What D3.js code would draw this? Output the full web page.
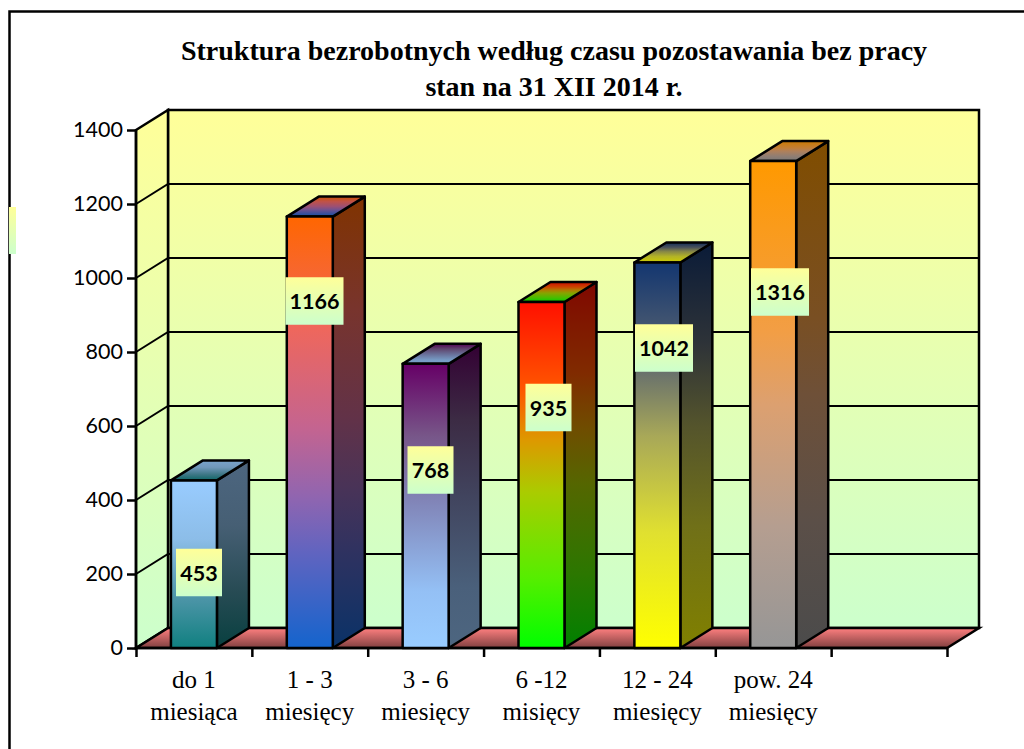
<!DOCTYPE html>
<html>
<head>
<meta charset="utf-8">
<script src="https://cdn.jsdelivr.net/npm/d3@7"></script>
<style>
    html, body { margin: 0; background: #fff; }
    svg { display: block; }
</style>
</head>
<body>
<svg id="main-chart"></svg>
<script>
const titleLines = ['Struktura bezrobotnych według czasu pozostawania bez pracy', 'stan na 31 XII 2014 r.'];
const categories = ['do 1|miesiąca', '1 - 3|miesięcy', '3 - 6|miesięcy', '6 -12|misięcy', '12 - 24|miesięcy', 'pow. 24|miesięcy'];
const values = [453, 1166, 768, 935, 1042, 1316];
const yTicks = [0, 200, 400, 600, 800, 1000, 1200, 1400];

// gradient stops of each bar, top to bottom
const barStops = [
    [[0, '#99ccff'], [0.35, '#8cbde8'], [0.7, '#4d95a8'], [1, '#108080']],
    [[0, '#ff6600'], [0.25, '#f0675a'], [0.49, '#c46490'], [0.65, '#9065b0'], [0.78, '#6064c0'], [1, '#1464cd']],
    [[0, '#660066'], [0.25, '#775588'], [0.5, '#8288bb'], [0.8, '#94c0f5'], [1, '#99ccff']],
    [[0, '#ff1000'], [0.25, '#ff5500'], [0.4, '#dd9900'], [0.55, '#aacc00'], [0.8, '#55ee00'], [1, '#00ff00']],
    [[0, '#133670'], [0.25, '#5c6670'], [0.45, '#a8a858'], [0.7, '#e0e030'], [1, '#ffff00']],
    [[0, '#ff9900'], [0.35, '#f29e45'], [0.5, '#dca070'], [0.75, '#b59e90'], [1, '#969696']]
];

// the value boxes were placed by hand in the original
const labelCenters = [[199, 572.5], [314.5, 301], [430.5, 470], [548.5, 407.5], [664, 348], [780, 292]];

const width = 1024;
const height = 749;
const plot = { left: 136, right: 947, top: 130, bottom: 648 };
const depth = { x: 32, y: -20 };

const svg = d3.select('#main-chart')
    .attr('width', width)
    .attr('height', height);

const defs = svg.append('defs');

function addGradient(id, stops) {
    const grad = defs.append('linearGradient')
        .attr('id', id)
        .attr('x1', 0).attr('y1', 0)
        .attr('x2', 0).attr('y2', 1);
    stops.forEach(s => grad.append('stop').attr('offset', s[0]).attr('stop-color', s[1]));
}

function shade(color, k) {
    const c = d3.rgb(color);
    return d3.rgb(c.r * k, c.g * k, c.b * k).formatHex();
}

addGradient('wall', [[0, '#ffff99'], [1, '#ccffcc']]);
addGradient('floor', [[0, '#ff8080'], [1, '#804040']]);
barStops.forEach((stops, i) => {
    addGradient(`front-${i}`, stops);
    addGradient(`side-${i}`, stops.map(s => [s[0], shade(s[1], 0.5)]));
    addGradient(`top-${i}`, stops.map(s => [s[0], shade(s[1], 0.8)]));
});

const yScale = d3.scaleLinear()
    .domain([0, 1400])
    .range([plot.bottom, plot.top]);

const xScale = d3.scaleBand()
    .domain(d3.range(categories.length + 1))
    .range([plot.left, plot.right])
    .paddingInner(0.603)
    .paddingOuter(0.3015);

const xEdges = d3.scaleLinear()
    .domain([0, categories.length + 1])
    .range([plot.left, plot.right]);

const poly = pts => 'M' + pts.map(p => p.join(',')).join('L') + 'Z';

const lineW = 2.5;

// walls and floor
const y0 = yScale(0);
const yMax = yScale(1400);

svg.append('path')
    .attr('d', poly([[plot.left + depth.x, yMax + depth.y], [plot.right + depth.x, yMax + depth.y],
        [plot.right + depth.x, y0 + depth.y], [plot.left + depth.x, y0 + depth.y]]))
    .attr('fill', 'url(#wall)')
    .attr('stroke', '#000')
    .attr('stroke-width', lineW);

svg.append('path')
    .attr('d', poly([[plot.left, yMax], [plot.left + depth.x, yMax + depth.y],
        [plot.left + depth.x, y0 + depth.y], [plot.left, y0]]))
    .attr('fill', 'url(#wall)')
    .attr('stroke', '#000')
    .attr('stroke-width', lineW);

svg.append('path')
    .attr('d', poly([[plot.left, y0], [plot.left + depth.x, y0 + depth.y],
        [plot.right + depth.x, y0 + depth.y], [plot.right, y0]]))
    .attr('fill', 'url(#floor)')
    .attr('stroke', '#000')
    .attr('stroke-width', lineW);

// grid lines run across the left wall and the back wall
svg.selectAll('.grid')
    .data(yTicks.filter(d => d > 0 && d < 1400))
    .enter()
    .append('path')
    .attr('class', 'grid')
    .attr('d', d => `M${plot.left},${yScale(d)}L${plot.left + depth.x},${yScale(d) + depth.y}L${plot.right + depth.x},${yScale(d) + depth.y}`)
    .attr('fill', 'none')
    .attr('stroke', '#000')
    .attr('stroke-width', 2);

// axes
const yAxis = svg.append('g')
    .attr('transform', `translate(${plot.left}, 0)`)
    .call(d3.axisLeft(yScale).tickValues(yTicks).tickSize(9).tickPadding(4).tickFormat(d3.format('d')));
yAxis.selectAll('line, path').attr('stroke', '#000').attr('stroke-width', lineW);
yAxis.selectAll('.domain').attr('d', `M0,${yMax}V${y0}`);
yAxis.selectAll('text')
    .attr('font-family', 'Lato, sans-serif')
    .attr('font-size', 21.5)
    .attr('fill', '#000');

const xAxis = svg.append('g')
    .attr('transform', `translate(0, ${plot.bottom})`)
    .call(d3.axisBottom(xEdges).ticks(categories.length + 1).tickSize(9).tickFormat(''));
xAxis.selectAll('line, path').attr('stroke', '#000').attr('stroke-width', lineW);
xAxis.selectAll('.domain').attr('d', `M${plot.left},0H${plot.right}`);

// bars
const bars = svg.selectAll('.bar')
    .data(values)
    .enter()
    .append('g')
    .attr('class', 'bar');

const barX0 = (d, i) => xScale(i);
const barX1 = (d, i) => xScale(i) + xScale.bandwidth();

bars.append('path')
    .attr('d', (d, i) => poly([[barX1(d, i), yScale(d)], [barX1(d, i) + depth.x, yScale(d) + depth.y],
        [barX1(d, i) + depth.x, y0 + depth.y], [barX1(d, i), y0]]))
    .attr('fill', (d, i) => `url(#side-${i})`);

bars.append('path')
    .attr('d', (d, i) => poly([[barX0(d, i), yScale(d)], [barX0(d, i) + depth.x, yScale(d) + depth.y],
        [barX1(d, i) + depth.x, yScale(d) + depth.y], [barX1(d, i), yScale(d)]]))
    .attr('fill', (d, i) => `url(#top-${i})`);

bars.append('path')
    .attr('d', (d, i) => poly([[barX0(d, i), yScale(d)], [barX1(d, i), yScale(d)],
        [barX1(d, i), y0], [barX0(d, i), y0]]))
    .attr('fill', (d, i) => `url(#front-${i})`);

bars.selectAll('path')
    .attr('stroke', '#000')
    .attr('stroke-width', lineW)
    .attr('stroke-linejoin', 'round');

// value boxes
const boxHeight = 47.5;
const boxWidth = d => (d >= 1000 ? 58 : 46);

svg.selectAll('.value-box')
    .data(values)
    .enter()
    .append('rect')
    .attr('class', 'value-box')
    .attr('x', (d, i) => labelCenters[i][0] - boxWidth(d) / 2)
    .attr('y', (d, i) => labelCenters[i][1] - boxHeight / 2)
    .attr('width', boxWidth)
    .attr('height', boxHeight)
    .attr('fill', 'url(#wall)');

svg.selectAll('.value-label')
    .data(values)
    .enter()
    .append('text')
    .attr('class', 'value-label')
    .attr('x', (d, i) => labelCenters[i][0])
    .attr('y', (d, i) => labelCenters[i][1] + 8)
    .attr('text-anchor', 'middle')
    .attr('font-family', 'Lato, sans-serif')
    .attr('font-weight', 'bold')
    .attr('font-size', 21.5)
    .attr('fill', '#000')
    .text(d => d);

// category labels, two lines each
svg.selectAll('.cat-label')
    .data(categories)
    .enter()
    .append('text')
    .attr('class', 'cat-label')
    .attr('text-anchor', 'middle')
    .attr('font-family', '"Liberation Serif", serif')
    .attr('font-size', 25)
    .attr('fill', '#000')
    .each(function(d, i) {
        d3.select(this).selectAll('tspan')
            .data(d.split('|'))
            .enter()
            .append('tspan')
            .attr('x', xScale(i) + xScale.bandwidth() / 2)
            .attr('y', (t, j) => 688 + j * 32)
            .text(t => t);
    });

// title
svg.selectAll('.chart-title')
    .data(titleLines)
    .enter()
    .append('text')
    .attr('class', 'chart-title')
    .attr('x', 554)
    .attr('y', (d, i) => 60 + i * 36)
    .attr('text-anchor', 'middle')
    .attr('font-family', '"Liberation Serif", serif')
    .attr('font-weight', 'bold')
    .attr('font-size', 28)
    .attr('fill', '#000')
    .text(d => d);

// page frame, open on the right and at the bottom
svg.append('path')
    .attr('d', `M${width},11.5H9.5V${height}`)
    .attr('fill', 'none')
    .attr('stroke', '#000')
    .attr('stroke-width', 2.5);

// leftover legend swatch sitting on the frame
svg.append('rect')
    .attr('x', 9)
    .attr('y', 207)
    .attr('width', 7)
    .attr('height', 47)
    .attr('fill', 'url(#wall)');
</script>
</body>
</html>
